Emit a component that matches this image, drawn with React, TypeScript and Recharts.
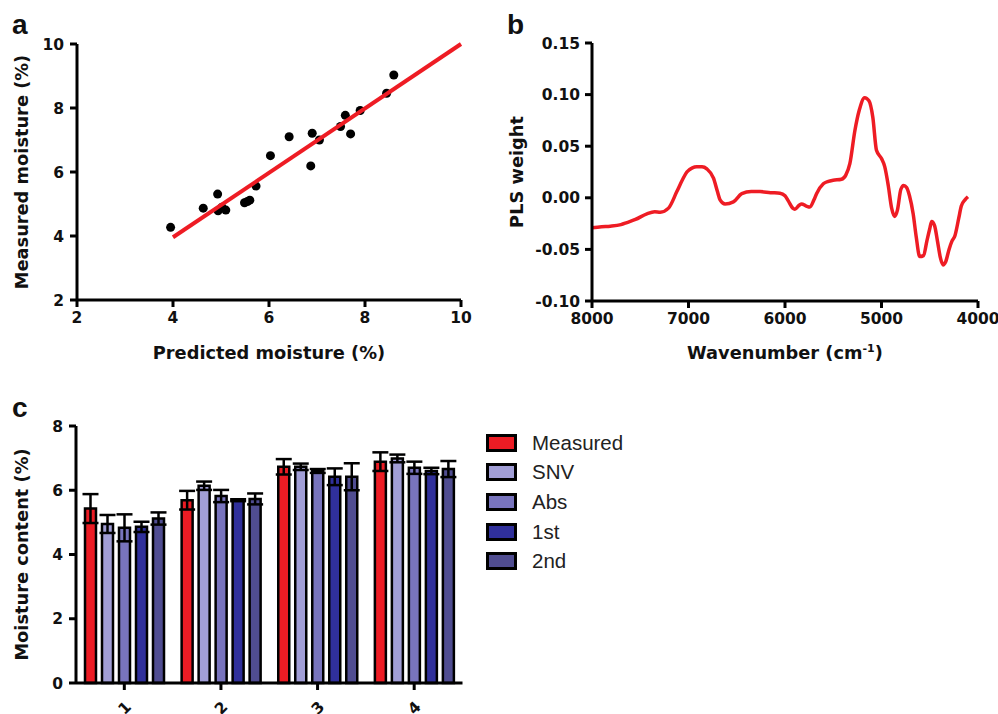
import React from "react";
import {
  ScatterChart, Scatter, LineChart, Line, BarChart, Bar, ErrorBar,
  XAxis, YAxis, ZAxis, Label,
} from "recharts";

// panel a: predicted vs measured moisture
const predicted = [3.95, 4.63, 4.93, 4.94, 5.02, 5.1, 5.49, 5.55, 5.6, 5.73, 6.03, 6.42, 6.87, 6.9, 7.05, 7.49, 7.59, 7.7, 7.9, 8.45, 8.6];
const measured = [4.27, 4.87, 5.31, 4.79, 4.9, 4.81, 5.04, 5.08, 5.12, 5.56, 6.51, 7.1, 6.19, 7.21, 7.0, 7.42, 7.77, 7.19, 7.92, 8.46, 9.03];
const fitX = [4, 10];
const fitY = [3.96, 10];

// panel b: PLS weight spectrum
const wavenumber = [
  8000, 7900, 7811, 7700, 7638, 7550, 7431, 7350, 7293, 7207, 7121, 7060, 7017, 6960, 6914, 6860,
  6810, 6741, 6700, 6673, 6621, 6535, 6448, 6350, 6259, 6150, 6052, 6000, 5966, 5920, 5897, 5850,
  5828, 5780, 5742, 5700, 5673, 5603, 5550, 5500, 5414, 5370, 5328, 5276, 5230, 5175, 5130, 5090,
  5052, 5000, 4966, 4930, 4895, 4863, 4835, 4800, 4770, 4740, 4710, 4672, 4640, 4604, 4565, 4530,
  4500, 4480, 4450, 4420, 4390, 4363, 4335, 4300, 4270, 4240, 4200, 4173, 4135, 4104,
];
const plsWeight = [
  -0.029, -0.028, -0.0275, -0.026, -0.024, -0.021, -0.0155, -0.0135, -0.014, -0.01, 0.006, 0.018, 0.025, 0.029, 0.03, 0.03,
  0.028, 0.019, 0.006, -0.002, -0.006, -0.004, 0.004, 0.006, 0.006, 0.005, 0.0045, 0.002, -0.003, -0.01, -0.011, -0.007,
  -0.006, -0.008, -0.009, -0.002, 0.004, 0.0136, 0.016, 0.017, 0.018, 0.022, 0.033, 0.065, 0.085, 0.097, 0.094, 0.078,
  0.046, 0.038, 0.03, 0.012, -0.01, -0.018, -0.012, 0.008, 0.012, 0.01, 0.002, -0.0155, -0.038, -0.057, -0.056, -0.042,
  -0.03, -0.023, -0.027, -0.042, -0.058, -0.065, -0.062, -0.05, -0.042, -0.037, -0.02, -0.008, -0.002, 0.001,
];

// panel c: moisture content by sample
const groups = ["1", "2", "3", "4"];
const seriesNames = ["Measured", "SNV", "Abs", "1st", "2nd"];
const seriesColors = ["#ec1c24", "#a19ed6", "#7874bd", "#30309b", "#504d91"];
const measuredMean = [5.43, 5.69, 6.73, 6.89];
const measuredErr = [0.45, 0.29, 0.24, 0.29];
const snvMean = [4.95, 6.14, 6.73, 6.99];
const snvErr = [0.28, 0.13, 0.1, 0.12];
const absMean = [4.83, 5.82, 6.6, 6.7];
const absErr = [0.42, 0.19, 0.06, 0.19];
const firstMean = [4.86, 5.69, 6.42, 6.6];
const firstErr = [0.16, 0.03, 0.26, 0.1];
const secondMean = [5.12, 5.73, 6.42, 6.66];
const secondErr = [0.19, 0.17, 0.42, 0.25];

const RED = "#ee1c24";
const INK = "#111";
const tickStyle = { fontFamily: "DejaVu Sans", fontWeight: 700, fontSize: 15.5, fill: INK };
const titleStyle = { fontFamily: "DejaVu Sans", fontWeight: 700, fontSize: 17.8, fill: INK };
const axisLine = { stroke: "#000", strokeWidth: 3 };

const scatterData = predicted.map((x, i) => ({ x, y: measured[i] }));
const fitData = fitX.map((x, i) => ({ x, y: fitY[i] }));
const spectrum = wavenumber.map((wn, i) => ({ wn, w: plsWeight[i] }));
const means = [measuredMean, snvMean, absMean, firstMean, secondMean];
const errs = [measuredErr, snvErr, absErr, firstErr, secondErr];
const barData = groups.map((g, i) => {
  const row: Record<string, string | number> = { g };
  means.forEach((m, s) => {
    row[`v${s}`] = m[i];
    row[`e${s}`] = errs[s][i];
  });
  return row;
});

function PanelTag({ text, left, top }: { text: string; left: number; top: number }) {
  return (
    <div
      style={{
        position: "absolute",
        left,
        top,
        fontFamily: "Liberation Sans, Arial",
        fontWeight: 700,
        fontSize: 28,
        lineHeight: "28px",
        color: INK,
      }}
    >
      {text}
    </div>
  );
}

export default function App() {
  return (
    <div
      style={{
        position: "absolute",
        left: 0,
        top: 0,
        width: 998,
        height: 714,
        background: "#fff",
        overflow: "hidden",
      }}
    >
      <PanelTag text="a" left={12} top={11} />
      <PanelTag text="b" left={507} top={11} />
      <PanelTag text="c" left={12} top={394} />

      <div style={{ position: "absolute", left: 0, top: 0 }}>
        <ScatterChart width={480} height={372} margin={{ top: 44, right: 19, left: 0, bottom: 0 }}>
          <XAxis
            type="number"
            dataKey="x"
            domain={[2, 10]}
            ticks={[2, 4, 6, 8, 10]}
            height={72}
            axisLine={axisLine}
            tickLine={axisLine}
            tickSize={7}
            tickMargin={5}
            tick={tickStyle}
          >
            <Label value="Predicted moisture (%)" position="insideBottom" offset={13} style={titleStyle} />
          </XAxis>
          <YAxis
            type="number"
            dataKey="y"
            domain={[2, 10]}
            ticks={[2, 4, 6, 8, 10]}
            width={77}
            axisLine={axisLine}
            tickLine={axisLine}
            tickSize={7}
            tickMargin={6}
            tick={tickStyle}
          >
            <Label
              value="Measured moisture (%)"
              angle={-90}
              position="insideLeft"
              offset={22}
              style={{ ...titleStyle, textAnchor: "middle" }}
            />
          </YAxis>
          <ZAxis range={[135, 135]} />
          <Scatter data={scatterData} fill="#000" isAnimationActive={false} />
          <Scatter
            data={fitData}
            line={{ stroke: RED, strokeWidth: 4 }}
            shape={() => <g />}
            legendType="none"
            isAnimationActive={false}
          />
        </ScatterChart>
      </div>

      <div style={{ position: "absolute", left: 490, top: 0 }}>
        <LineChart width={508} height={372} data={spectrum} margin={{ top: 43, right: 20, left: 0, bottom: 0 }}>
          <XAxis
            type="number"
            dataKey="wn"
            domain={[4000, 8000]}
            ticks={[8000, 7000, 6000, 5000, 4000]}
            reversed
            height={71}
            axisLine={axisLine}
            tickLine={axisLine}
            tickSize={7}
            tickMargin={5}
            tick={tickStyle}
          >
            <Label
              content={(p: any) => {
                const vb = p.viewBox || {};
                return (
                  <text x={vb.x + vb.width / 2} y={vb.y + vb.height - 13} textAnchor="middle" style={titleStyle}>
                    Wavenumber (cm
                    <tspan dy={-7} fontSize={11}>-1</tspan>
                    <tspan dy={7}>)</tspan>
                  </text>
                );
              }}
            />
          </XAxis>
          <YAxis
            type="number"
            domain={[-0.1, 0.15]}
            ticks={[-0.1, -0.05, 0, 0.05, 0.1, 0.15]}
            tickFormatter={(v: number) => v.toFixed(2)}
            width={102}
            axisLine={axisLine}
            tickLine={axisLine}
            tickSize={7}
            tickMargin={5}
            tick={tickStyle}
          >
            <Label
              value="PLS weight"
              angle={-90}
              position="insideLeft"
              offset={27}
              style={{ ...titleStyle, textAnchor: "middle" }}
            />
          </YAxis>
          <Line
            type="monotone"
            dataKey="w"
            stroke={RED}
            strokeWidth={3.5}
            dot={false}
            isAnimationActive={false}
          />
        </LineChart>
      </div>

      <div style={{ position: "absolute", left: 0, top: 400 }}>
        <BarChart
          width={480}
          height={314}
          data={barData}
          margin={{ top: 26, right: 17.5, left: 0, bottom: 0 }}
          barCategoryGap={9}
          barGap={6}
        >
          <XAxis
            dataKey="g"
            height={31}
            axisLine={axisLine}
            tickLine={axisLine}
            tickSize={7}
            tickMargin={10}
            angle={-45}
            textAnchor="end"
            tick={tickStyle}
            interval={0}
          />
          <YAxis
            type="number"
            domain={[0, 8]}
            ticks={[0, 2, 4, 6, 8]}
            width={76}
            axisLine={axisLine}
            tickLine={axisLine}
            tickSize={7}
            tickMargin={6}
            tick={tickStyle}
          >
            <Label
              value="Moisture content (%)"
              angle={-90}
              position="insideLeft"
              offset={22}
              style={{ ...titleStyle, textAnchor: "middle" }}
            />
          </YAxis>
          {seriesNames.map((name, s) => (
            <Bar
              key={name}
              name={name}
              dataKey={`v${s}`}
              fill={seriesColors[s]}
              stroke="#000"
              strokeWidth={2.5}
              isAnimationActive={false}
            >
              <ErrorBar dataKey={`e${s}`} width={8} stroke="#000" strokeWidth={2.5} direction="y" />
            </Bar>
          ))}
        </BarChart>
      </div>

      <div style={{ position: "absolute", left: 486, top: 428 }}>
        {seriesNames.map((name, s) => (
          <div key={name} style={{ display: "flex", alignItems: "center", height: 29.6 }}>
            <span
              style={{
                width: 25,
                height: 12,
                border: "3px solid #000",
                background: seriesColors[s],
                marginRight: 15,
              }}
            />
            <span style={{ fontFamily: "Liberation Sans, Arial", fontSize: 20.5, color: "#222" }}>{name}</span>
          </div>
        ))}
      </div>
    </div>
  );
}
